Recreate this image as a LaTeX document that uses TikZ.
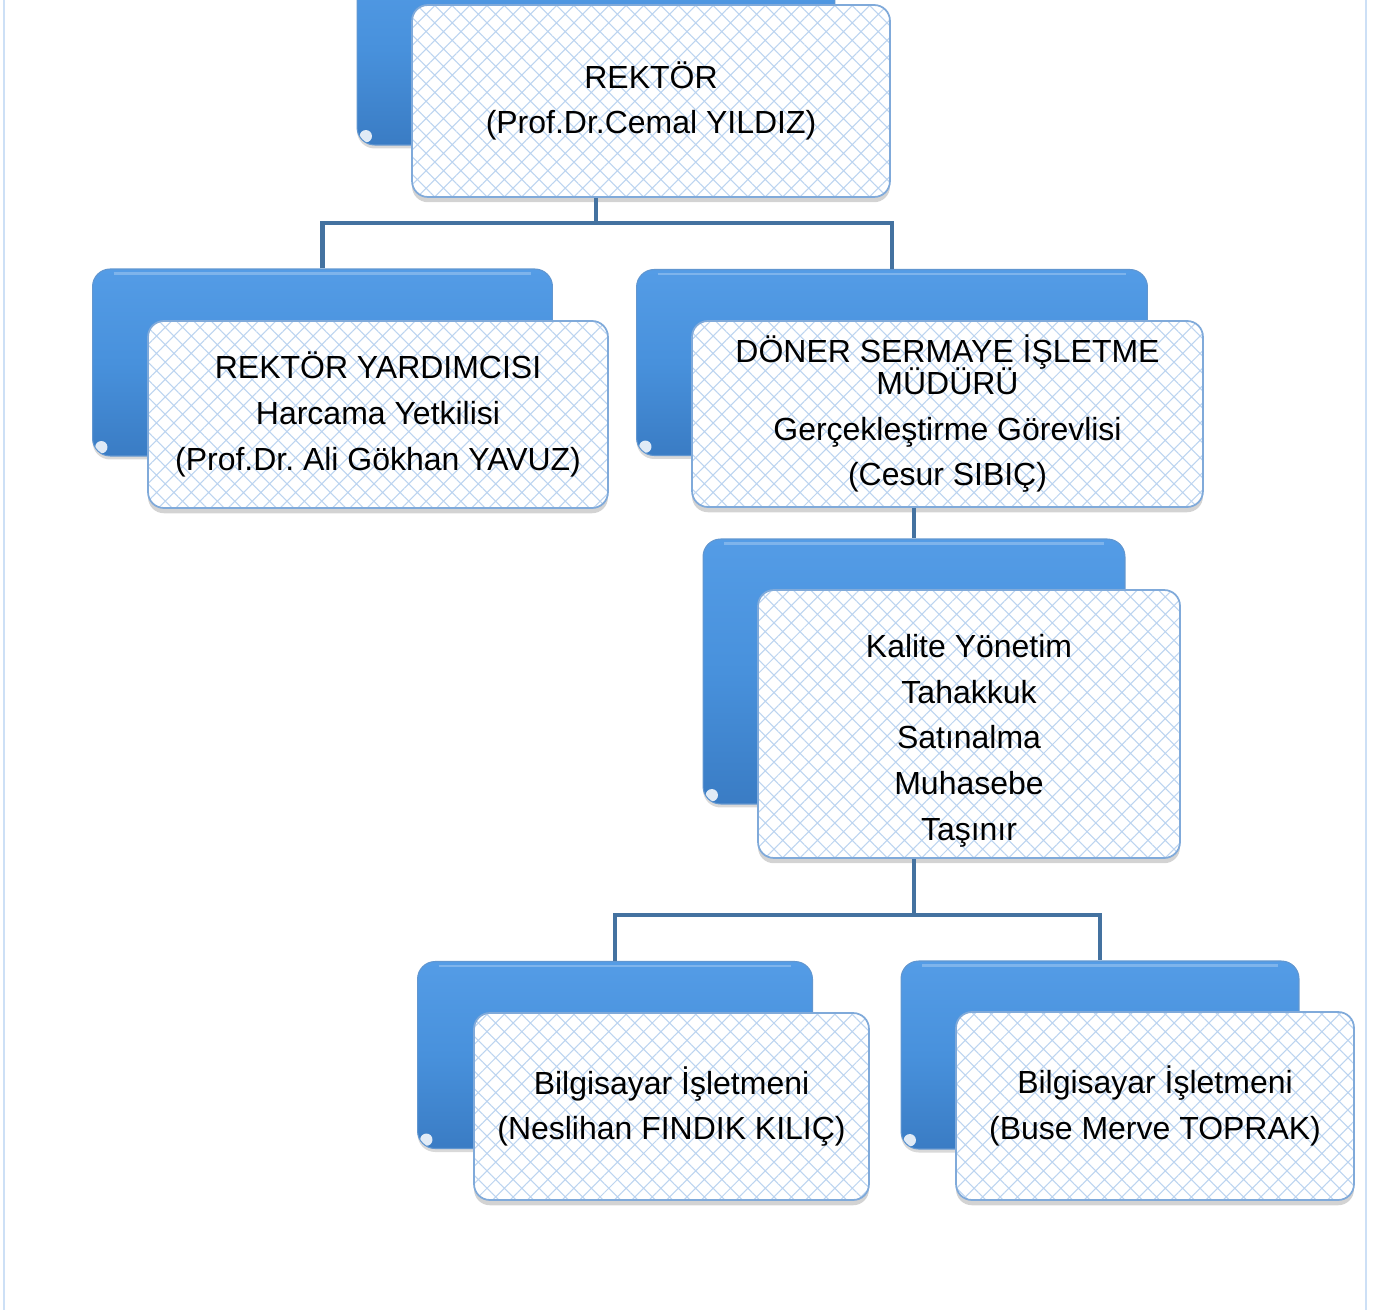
\documentclass[tikz,border=0pt]{standalone}
\usepackage{fontspec}
\setmainfont{Liberation Sans}
\usepackage{tikz}
\usetikzlibrary{patterns.meta}
\usetikzlibrary{shadows}
\usetikzlibrary{positioning}
\frenchspacing

\definecolor{linkblue}{RGB}{68,114,160}
\definecolor{backtop}{RGB}{84,156,230}
\definecolor{backmid}{RGB}{72,145,220}
\definecolor{backbot}{RGB}{58,124,196}
\definecolor{hatchblue}{RGB}{188,212,240}
\definecolor{edgeblue}{RGB}{128,170,218}
\definecolor{pageblue}{RGB}{205,224,246}

\begin{document}
\begin{tikzpicture}[x=0.02cm,y=-0.02cm,
  backbox/.style={rectangle,rounded corners=10pt,draw=backbot!80,line width=0.6pt,
    drop shadow={shadow xshift=0pt,shadow yshift=-2pt,opacity=0.3},
    top color=backtop,bottom color=backbot,middle color=backmid,
    path picture={
      \draw[white,opacity=0.25,line width=1.5pt]
        ([xshift=12pt,yshift=-2.5pt]path picture bounding box.north west) --
        ([xshift=-12pt,yshift=-2.5pt]path picture bounding box.north east);
      \fill[white,opacity=0.85] ([xshift=5pt,yshift=5pt]path picture bounding box.south west) circle (3.5pt);
    }},
  frontbox/.style={rectangle,rounded corners=9pt,draw=edgeblue,line width=1pt,
    drop shadow={shadow xshift=0pt,shadow yshift=-3pt,opacity=0.35},
    preaction={fill=white},
    pattern={Hatch[angle=45,distance=7pt,line width=0.6pt]},pattern color=hatchblue,
    align=center,font=\fontsize{18.2}{26}\selectfont},
  orgline/.style={draw=linkblue,line width=2.3pt}]
\useasboundingbox (0,0) rectangle (1385,1310);

\draw[pageblue,line width=1.6pt] (4,0) -- (4,1310);
\draw[pageblue,line width=1.6pt] (1366,0) -- (1366,1310);

% rektor
\node[backbox,minimum width=9.56cm,minimum height=3.84cm] (rektorback) at (596,49) {};
\node[frontbox,minimum width=9.56cm,minimum height=3.84cm] (rektor) at (651,101)
  {REKTÖR\\(Prof.Dr.Cemal YILDIZ)};

% second row
\node[backbox,minimum width=9.2cm,minimum height=3.74cm] (yardback) at (322.5,362.5) {};
\node[frontbox,minimum width=9.2cm,minimum height=3.74cm] (yard) at (378,414.5)
  {REKTÖR YARDIMCISI\\Harcama Yetkilisi\\(Prof.Dr. Ali Gökhan YAVUZ)};

\node[backbox,minimum width=10.22cm,minimum height=3.72cm] (donerback) at (892,362.5) {};
\node[frontbox,minimum width=10.22cm,minimum height=3.72cm] (doner) at (947.5,414)
  {DÖNER SERMAYE İŞLETME\\[-8pt]MÜDÜRÜ\\Gerçekleştirme Görevlisi\\(Cesur SIBIÇ)};

% units
\node[backbox,minimum width=8.44cm,minimum height=5.3cm] (kaliteback) at (914,671.5) {};
\node[frontbox,minimum width=8.44cm,minimum height=5.36cm] (kalite) at (969,724)
  {\rule{0pt}{32pt}Kalite Yönetim\\Tahakkuk\\Satınalma\\Muhasebe\\Taşınır};

% operators
\node[backbox,minimum width=7.9cm,minimum height=3.74cm] (bilgaback) at (615,1055) {};
\node[frontbox,minimum width=7.9cm,minimum height=3.74cm] (bilga) at (671.5,1106.5)
  {Bilgisayar İşletmeni\\(Neslihan FINDIK KILIÇ)};

\node[backbox,minimum width=7.96cm,minimum height=3.76cm] (bilgbback) at (1100,1055) {};
\node[frontbox,minimum width=7.96cm,minimum height=3.76cm] (bilgb) at (1155,1106)
  {Bilgisayar İşletmeni\\(Buse Merve TOPRAK)};

% connectors
\coordinate (topbus) at (596,223);
\coordinate (lowbus) at (914,915);
\draw[orgline] (rektorback.south |- rektor.south) -- (topbus);
\draw[orgline] (yardback.north) |- (topbus) -| (donerback.north);
\draw[orgline] (kaliteback.north |- doner.south) -- (kaliteback.north);
\draw[orgline] (kaliteback.south |- kalite.south) -- (lowbus);
\draw[orgline] (bilgaback.north) |- (lowbus) -| (bilgbback.north);

\end{tikzpicture}
\end{document}
